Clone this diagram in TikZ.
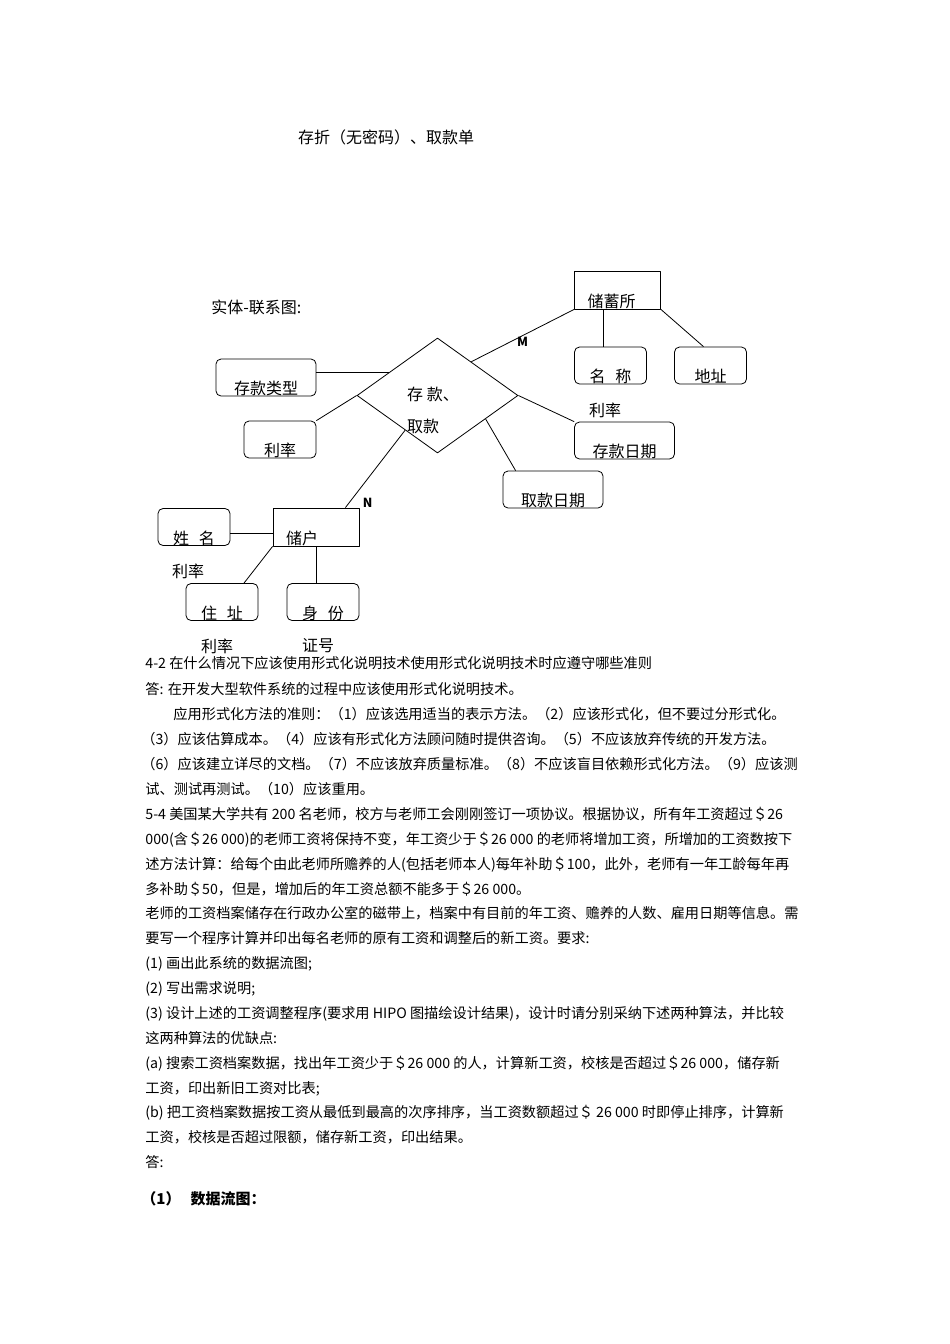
\documentclass[tikz,border=0pt]{standalone}
\usepackage{fontspec}
\setmainfont{Noto Sans CJK SC}
\usetikzlibrary{shapes.geometric}
\newcommand\erfont{\fontsize{16}{19}\selectfont}
\tikzset{
  attr/.style={draw, rounded corners=5pt, minimum width=72pt, minimum height=37pt,
    inner ysep=0pt, text height=35.5pt, text depth=1.5pt, font=\erfont},
  wattr/.style={attr, minimum width=100pt},
  ent/.style={draw, inner ysep=0pt, text height=36.5pt, text depth=1.5pt,
    text width=60pt, inner xsep=13pt, align=left, font=\erfont},
  rel/.style={diamond, draw, inner sep=0pt, minimum width=161pt, minimum height=115pt},
  card/.style={font=\fontsize{12.5}{14}\selectfont\bfseries, inner sep=1pt},
  er/.style={font=\erfont, inner sep=0pt},
  body/.style={anchor=base west, inner sep=0pt, font=\fontsize{14.2}{16}\selectfont},
}
\begin{document}
\begin{tikzpicture}[x=1pt, y=-1pt, line width=0.8pt, line join=round]
	\path[use as bounding box] (0,0) rectangle (950,1344);
	\node[er] (title) at (386,137) {存折（无密码）、取款单};
	\node[er, anchor=west] (erd) at (211,307) {实体-联系图:};
	% relationship and entities
	\node[rel] (ckqk) at (437.5,395.5) {};
	\node[er, align=left, font=\fontsize{16}{32}\selectfont] (ckqkt) at (433,410) {存 款、\\取款};
	\node[ent] (cxs) at (617.5,290) {储蓄所};
	\node[ent] (ch) at (316,527) {储户};
	% attributes
	\node[wattr] (cklx) at (266,377.5) {存款类型};
	\node[attr] (lv) at (280,439.5) {利率};
	\node[attr] (mc) at (610.5,365.5) {名\hspace{.6em}称};
	\node[attr] (dz) at (710.5,365.5) {地址};
	\node[wattr] (ckrq) at (624.5,440.5) {存款日期};
	\node[wattr] (qkrq) at (553,489.5) {取款日期};
	\node[attr] (xm) at (194,527) {姓\hspace{.6em}名};
	\node[attr] (zz) at (222,602) {住\hspace{.6em}址};
	\node[attr] (sf) at (323,602) {身\hspace{.6em}份};
	% stray labels
	\node[er] (lv2) at (605,410) {利率};
	\node[er] (lv3) at (188,571) {利率};
	\node[er] (lv4) at (217,646) {利率};
	\node[er] (zh) at (318,646) {证号};
	% connectors
	\draw (ckqk.154) -- (ckqk.154 -| cklx.east);
	\draw (lv.north east) -- (ckqk.west);
	\draw (ckqk.45) -- (cxs.south west) node[card, pos=.5, below] (m) {M};
	\draw ([xshift=-7.5pt]mc.north) -- ([xshift=-7.5pt]mc.north |- cxs.south);
	\draw (cxs.south east) -- ([xshift=-7pt]dz.north);
	\draw (ckqk.east) -- (ckrq.north west);
	\draw (ckqk.-26) -- ([xshift=13pt]qkrq.north west);
	\draw (ckqk.227) -- ([xshift=-14pt]ch.north east);
	\node[card, anchor=west] (n) at ([xshift=2pt, yshift=5pt]ch.north east) {N};
	\draw ([yshift=-6pt]xm.east) -- ([yshift=-6pt]xm.east -| ch.west);
	\draw (ch.south west) -- ([xshift=22pt]zz.north);
	\draw (ch.south) -- (ch.south |- sf.north);
	% text below
	\node[body] (t1) at (145,668) {4-2 在什么情况下应该使用形式化说明技术使用形式化说明技术时应遵守哪些准则};
	\node[body] (t2) at (145,694) {答: 在开发大型软件系统的过程中应该使用形式化说明技术。};
	\node[body] (t3) at (173,719) {应用形式化方法的准则：（1）应该选用适当的表示方法。（2）应该形式化，但不要过分形式化。};
	\node[body] (t4) at (141,744) {（3）应该估算成本。（4）应该有形式化方法顾问随时提供咨询。（5）不应该放弃传统的开发方法。};
	\node[body] (t5) at (141,769) {（6）应该建立详尽的文档。（7）不应该放弃质量标准。（8）不应该盲目依赖形式化方法。（9）应该测};
	\node[body] (t6) at (145,794) {试、测试再测试。（10）应该重用。};
	\node[body] (t7) at (145,819) {5-4 美国某大学共有 200 名老师，校方与老师工会刚刚签订一项协议。根据协议，所有年工资超过＄26};
	\node[body] (t8) at (145,844) {000(含＄26 000)的老师工资将保持不变，年工资少于＄26 000 的老师将增加工资，所增加的工资数按下};
	\node[body] (t9) at (145,869) {述方法计算：给每个由此老师所赡养的人(包括老师本人)每年补助＄100，此外，老师有一年工龄每年再};
	\node[body] (t10) at (145,894) {多补助＄50，但是，增加后的年工资总额不能多于＄26 000。};
	\node[body] (t11) at (145,918) {老师的工资档案储存在行政办公室的磁带上，档案中有目前的年工资、赡养的人数、雇用日期等信息。需};
	\node[body] (t12) at (145,943) {要写一个程序计算并印出每名老师的原有工资和调整后的新工资。要求:};
	\node[body] (t13) at (145,968) {(1) 画出此系统的数据流图;};
	\node[body] (t14) at (145,993) {(2) 写出需求说明;};
	\node[body] (t15) at (145,1018) {(3) 设计上述的工资调整程序(要求用 HIPO 图描绘设计结果)，设计时请分别采纳下述两种算法，并比较};
	\node[body] (t16) at (145,1043) {这两种算法的优缺点:};
	\node[body] (t17) at (145,1068) {(a) 搜索工资档案数据，找出年工资少于＄26 000 的人，计算新工资，校核是否超过＄26 000，储存新};
	\node[body] (t18) at (145,1093) {工资，印出新旧工资对比表;};
	\node[body] (t19) at (145,1117) {(b) 把工资档案数据按工资从最低到最高的次序排序，当工资数额超过＄ 26 000 时即停止排序，计算新};
	\node[body] (t20) at (145,1142) {工资，校核是否超过限额，储存新工资，印出结果。};
	\node[body] (t21) at (145,1167) {答:};
	\node[body, font=\fontsize{15}{17}\selectfont\bfseries] (t22) at (141,1204) {（1）\hspace{10pt}数据流图：};
\end{tikzpicture}
\end{document}
